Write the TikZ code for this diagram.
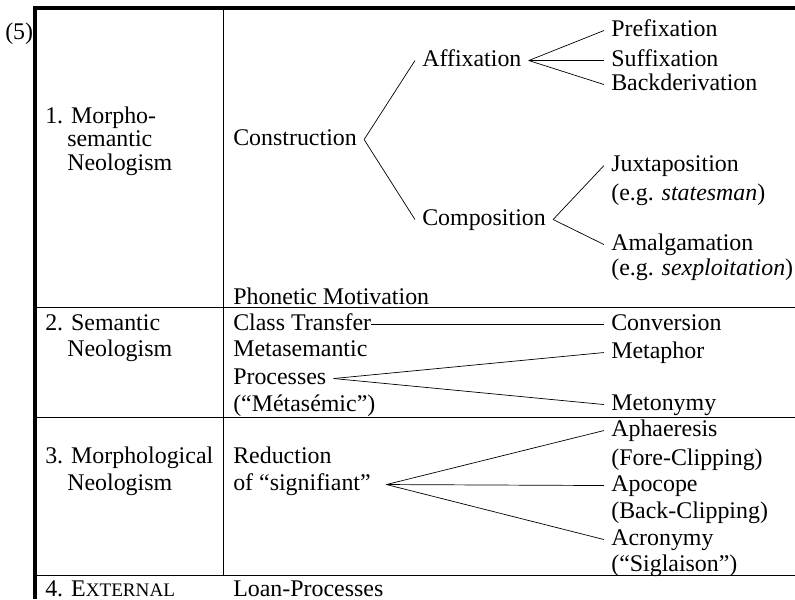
\documentclass[tikz,border=0pt]{standalone}
\usepackage{fontspec}
\setmainfont{Liberation Serif}
\usetikzlibrary{calc}
\newcommand{\fakesc}[1]{{\fontsize{13.6pt}{15pt}\selectfont #1}}

\begin{document}
\begin{tikzpicture}[x=0.025cm,y=-0.025cm,
    lbl/.style={anchor=west,xshift=-5pt,yshift=-1.8pt,inner xsep=5pt,inner ysep=0pt,
      text height=11.5pt,text depth=3.5pt,font=\fontsize{17pt}{19pt}\selectfont},
    rule/.style={line width=0.6pt},
    branch/.style={line width=0.5pt}]
    \useasboundingbox (0,0) rectangle (795,599);
    % frame and rules
    \draw[line width=2.2pt] (35,599) -- (35,8) -- (795,8);
    \draw[rule] (223,8) -- (223,575);
    \draw[rule] (35,307) -- (795,307);
    \draw[rule] (35,417) -- (795,417);
    \draw[rule] (35,575) -- (795,575);
    \node[lbl] (five) at (5,31) {(5)};
    % row 1
    \node[lbl] (ms1) at (45,115) {1. Morpho-};
    \node[lbl] (ms2) at (67,138) {semantic};
    \node[lbl] (ms3) at (67,162) {Neologism};
    \node[lbl] (cons) at (233,137) {Construction};
    \node[lbl] (aff)  at (422,58)  {Affixation};
    \node[lbl] (pre)  at (611,28)  {Prefixation};
    \node[lbl] (suf)  at (611,58)  {Suffixation};
    \node[lbl] (back) at (611,82)  {Backderivation};
    \node[lbl] (comp) at (422,217) {Composition};
    \node[lbl] (jux)  at (611,163) {Juxtaposition};
    \node[lbl] (juxe) at (611,192) {(e.g. \textit{statesman})};
    \node[lbl] (amal) at (611,242) {Amalgamation};
    \node[lbl] (amle) at (611,267) {(e.g. \textit{sexploitation})};
    \node[lbl] (phon) at (233,296) {Phonetic Motivation};
    \draw[branch] (cons.east) -- (aff.west);
    \draw[branch] (cons.east) -- (comp.west);
    \draw[branch] (aff.east) -- (pre.west);
    \draw[branch] (aff.east) -- (suf.west);
    \draw[branch] (aff.east) -- (back.west);
    \draw[branch] (comp.east) -- (jux.west);
    \draw[branch] (comp.east) -- (amal.west);
    % row 2
    \node[lbl] (sem1) at (45,322) {2. Semantic};
    \node[lbl] (sem2) at (67,348) {Neologism};
    \node[lbl] (ct)   at (233,322) {Class Transfer};
    \node[lbl] (conv) at (611,322) {Conversion};
    \node[lbl] (msem) at (233,348) {Metasemantic};
    \node[lbl] (proc) at (233,376) {Processes};
    \node[lbl] (msmc) at (233,403) {(“Métasémic”)};
    \node[lbl] (mphr) at (611,350) {Metaphor};
    \node[lbl] (mtny) at (611,402) {Metonymy};
    \draw[branch] ([xshift=-5pt]ct.east) -- (conv.west);
    \draw[branch] (proc.east) -- (mphr.west);
    \draw[branch] (proc.east) -- (mtny.west);
    % row 3
    \node[lbl] (mor1) at (45,455) {3. Morphological};
    \node[lbl] (mor2) at (67,482) {Neologism};
    \node[lbl] (red1) at (233,455) {Reduction};
    \node[lbl] (red2) at (233,482) {of “signifiant”};
    \node[lbl] (aph)  at (611,428) {Aphaeresis};
    \node[lbl] (aphc) at (611,457) {(Fore-Clipping)};
    \node[lbl] (apo)  at (611,483) {Apocope};
    \node[lbl] (apoc) at (611,510) {(Back-Clipping)};
    \node[lbl] (acr)  at (611,537) {Acronymy};
    \node[lbl] (acrs) at (611,563) {(“Siglaison”)};
    \draw[branch] ([xshift=6pt]red2.east) -- (aph.west);
    \draw[branch] ([xshift=6pt]red2.east) -- (apo.west);
    \draw[branch] ([xshift=6pt]red2.east) -- (acr.west);
    % row 4
    \node[lbl] (ext)  at (45,588)  {4. E\fakesc{XTERNAL}};
    \node[lbl] (loan) at (233,588) {Loan-Processes};
\end{tikzpicture}
\end{document}
